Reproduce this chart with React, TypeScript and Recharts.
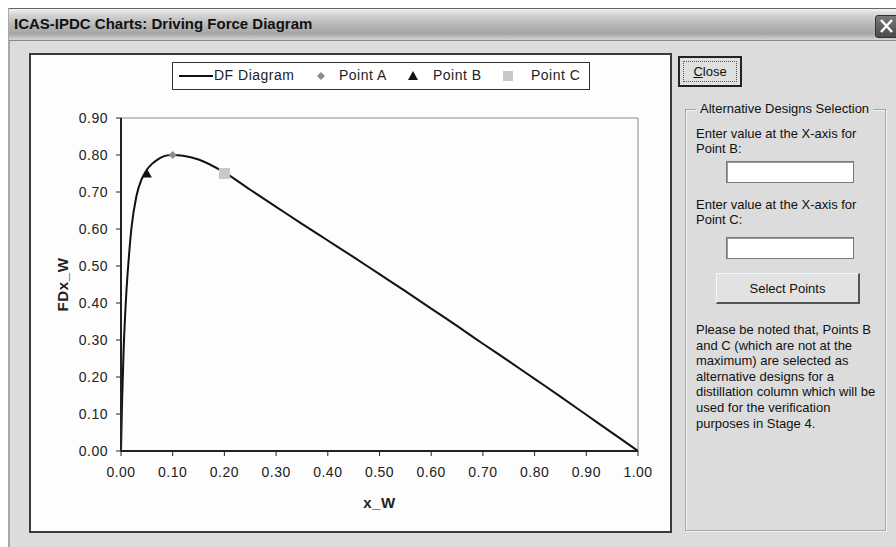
import { ComposedChart, Line, Scatter, XAxis, YAxis, ReferenceLine } from "recharts";

// DF diagram curve
const dfX = [0, 0.002, 0.005, 0.01, 0.015, 0.02, 0.03, 0.04, 0.05, 0.06, 0.07, 0.08, 0.09, 0.1, 0.12, 0.15, 0.2, 0.25, 0.3, 0.35, 0.4, 0.45, 0.5, 0.55, 0.6, 0.65, 0.7, 0.75, 0.8, 0.85, 0.9, 0.95, 1.0];
const dfY = [0, 0.13, 0.27, 0.42, 0.52, 0.6, 0.69, 0.735, 0.76, 0.776, 0.787, 0.795, 0.799, 0.8, 0.798, 0.788, 0.753, 0.706, 0.66, 0.614, 0.569, 0.524, 0.478, 0.432, 0.385, 0.338, 0.29, 0.243, 0.195, 0.147, 0.098, 0.049, 0];

const pointA = [{ x: 0.1, y: 0.8 }];
const pointB = [{ x: 0.05, y: 0.75 }];
const pointC = [{ x: 0.2, y: 0.75 }];

const xTicks = [0, 0.1, 0.2, 0.3, 0.4, 0.5, 0.6, 0.7, 0.8, 0.9, 1.0];
const yTicks = [0, 0.1, 0.2, 0.3, 0.4, 0.5, 0.6, 0.7, 0.8, 0.9];

const chartFont = "'Liberation Sans', Arial, sans-serif";
const uiFont = "'Liberation Sans', Arial, sans-serif";

function diamond(props: any) {
  const { cx, cy } = props;
  return <polygon points={`${cx},${cy - 4} ${cx + 4},${cy} ${cx},${cy + 4} ${cx - 4},${cy}`} fill="#8c8c8c" />;
}

function triangle(props: any) {
  const { cx, cy } = props;
  return <polygon points={`${cx},${cy - 5} ${cx + 5},${cy + 4} ${cx - 5},${cy + 4}`} fill="#111" />;
}

function square(props: any) {
  const { cx, cy } = props;
  return <rect x={cx - 5.5} y={cy - 5.5} width={11} height={11} fill="#c8c8c8" />;
}

function YTitle(props: any) {
  const vb = props.viewBox || { x: 0, y: 65, width: 92, height: 333 };
  const cx = vb.x + 33;
  const cy = vb.y + vb.height / 2;
  return (
    <text
      x={cx}
      y={cy}
      transform={`rotate(-90, ${cx}, ${cy})`}
      textAnchor="middle"
      dominantBaseline="central"
      fontFamily={chartFont}
      fontSize={15}
      fontWeight="bold"
      letterSpacing={0.6}
      fill="#222"
    >
      FDx_W
    </text>
  );
}

function XTitle(props: any) {
  const vb = props.viewBox || { x: 92, y: 398, width: 517, height: 81 };
  return (
    <text
      x={vb.x + vb.width / 2}
      y={vb.y + 51}
      textAnchor="middle"
      dominantBaseline="central"
      fontFamily={chartFont}
      fontSize={15}
      fontWeight="bold"
      letterSpacing={0.6}
      fill="#222"
    >
      x_W
    </text>
  );
}

const fmt = (v: number) => v.toFixed(2);

const tickStyle = { fill: "#222", fontSize: 14, fontFamily: chartFont, letterSpacing: 0.5 };

const panelText: React.CSSProperties = {
  position: "absolute",
  fontFamily: uiFont,
  fontSize: 13,
  color: "#111",
  lineHeight: "15px",
  whiteSpace: "nowrap",
};

export default function App() {
  const dfData = dfX.map((x, i) => ({ x, y: dfY[i] }));

  return (
    <div
      style={{
        position: "absolute",
        left: 0,
        top: 0,
        width: 896,
        height: 547,
        overflow: "hidden",
        background: "#fff",
        fontFamily: uiFont,
      }}
    >
      {/* window */}
      <div
        style={{
          position: "absolute",
          left: 8,
          top: 8,
          width: 900,
          height: 560,
          background: "#dcdcdc",
          borderLeft: "2px solid #a8a8a8",
          borderTop: "1px solid #666",
          boxSizing: "border-box",
        }}
      />
      {/* title bar */}
      <div
        style={{
          position: "absolute",
          left: 9,
          top: 9,
          width: 890,
          height: 31,
          background: "linear-gradient(to bottom, #f2f2f2 0%, #d2d2d2 20%, #b4b4b4 55%, #a6a6a6 80%, #d6d6d6 100%)",
          borderBottom: "1px solid #8a8a8a",
        }}
      >
        <div
          style={{
            position: "absolute",
            left: 5,
            top: 6,
            fontFamily: uiFont,
            fontWeight: "bold",
            fontSize: 15,
            color: "#111",
            whiteSpace: "nowrap",
          }}
        >
          ICAS-IPDC Charts: Driving Force Diagram
        </div>
      </div>
      {/* close X */}
      <div
        style={{
          position: "absolute",
          left: 875,
          top: 15,
          width: 24,
          height: 23,
          background: "linear-gradient(to bottom, #7a7a7a, #4a4a4a)",
          border: "1px solid #333",
          borderRadius: 3,
          boxSizing: "border-box",
        }}
      >
        <svg width={22} height={21} style={{ position: "absolute", left: 0, top: 0 }}>
          <line x1={5} y1={4} x2={16} y2={16} stroke="#fff" strokeWidth={2.5} />
          <line x1={16} y1={4} x2={5} y2={16} stroke="#fff" strokeWidth={2.5} />
        </svg>
      </div>

      {/* chart box */}
      <div
        style={{
          position: "absolute",
          left: 29,
          top: 53,
          width: 643,
          height: 480,
          background: "#fdfdfd",
          border: "2px solid #3a3a3a",
          boxSizing: "border-box",
        }}
      />
      <div style={{ position: "absolute", left: 29, top: 53 }}>
        <ComposedChart width={642} height={479} data={dfData} margin={{ top: 65, right: 33, left: 0, bottom: 0 }}>
          <XAxis
            dataKey="x"
            type="number"
            domain={[0, 1]}
            ticks={xTicks}
            tickFormatter={fmt}
            height={81}
            tickSize={5}
            tickMargin={11}
            axisLine={{ stroke: "#222", strokeWidth: 2 }}
            tickLine={{ stroke: "#222" }}
            tick={tickStyle}
            interval={0}
            allowDataOverflow
            label={{ value: "x_W", content: (p: any) => <XTitle {...p} /> }}
          />
          <YAxis
            dataKey="y"
            type="number"
            domain={[0, 0.9]}
            ticks={yTicks}
            tickFormatter={fmt}
            width={92}
            tickSize={5}
            tickMargin={8}
            axisLine={{ stroke: "#222", strokeWidth: 2 }}
            tickLine={{ stroke: "#222" }}
            tick={tickStyle}
            interval={0}
            allowDataOverflow
            label={{ value: "FDx_W", content: (p: any) => <YTitle {...p} /> }}
          />
          <ReferenceLine y={0.9} stroke="#8a8a8a" strokeWidth={1} />
          <ReferenceLine x={1} stroke="#8a8a8a" strokeWidth={1} />
          <Line
            type="monotone"
            dataKey="y"
            stroke="#111"
            strokeWidth={2}
            dot={false}
            isAnimationActive={false}
          />
          <Scatter data={pointA} dataKey="y" shape={diamond} isAnimationActive={false} />
          <Scatter data={pointB} dataKey="y" shape={triangle} isAnimationActive={false} />
          <Scatter data={pointC} dataKey="y" shape={square} isAnimationActive={false} />
        </ComposedChart>
      </div>

      {/* legend */}
      <div
        style={{
          position: "absolute",
          left: 172,
          top: 62,
          width: 418,
          height: 28,
          border: "1px solid #333",
          background: "#fff",
          boxSizing: "border-box",
          fontFamily: chartFont,
          fontSize: 14,
          letterSpacing: 0.5,
          color: "#222",
        }}
      >
        <svg width={418} height={26} style={{ position: "absolute", left: 0, top: 0 }}>
          <line x1={6} y1={13} x2={40} y2={13} stroke="#111" strokeWidth={2} />
          <polygon points="148,9 152,13 148,17 144,13" fill="#8c8c8c" />
          <polygon points="240,8 245,17 235,17" fill="#111" />
          <rect x={330} y={8} width={10} height={10} fill="#c8c8c8" />
        </svg>
        <span style={{ position: "absolute", left: 41, top: 4 }}>DF Diagram</span>
        <span style={{ position: "absolute", left: 166, top: 4 }}>Point A</span>
        <span style={{ position: "absolute", left: 260, top: 4 }}>Point B</span>
        <span style={{ position: "absolute", left: 358, top: 4 }}>Point C</span>
      </div>

      {/* Close button */}
      <div
        style={{
          position: "absolute",
          left: 678,
          top: 56,
          width: 64,
          height: 31,
          background: "#e0e0e0",
          border: "2px solid #222",
          boxSizing: "border-box",
        }}
      >
        <div
          style={{
            position: "absolute",
            left: 3,
            top: 3,
            right: 3,
            bottom: 3,
            border: "1px dotted #555",
          }}
        />
        <div style={{ ...panelText, left: 0, right: 0, top: 6, textAlign: "center" }}>
          <span style={{ textDecoration: "underline" }}>C</span>lose
        </div>
      </div>

      {/* group box */}
      <div
        style={{
          position: "absolute",
          left: 685,
          top: 109,
          width: 201,
          height: 422,
          border: "1px solid #a4a4a4",
          boxShadow: "inset 1px 1px 0 #f4f4f4, 1px 1px 0 #f4f4f4",
          boxSizing: "border-box",
        }}
      />
      <div style={{ ...panelText, left: 696, top: 101, background: "#dcdcdc", padding: "0 4px" }}>
        Alternative Designs Selection
      </div>
      <div style={{ ...panelText, left: 696, top: 126 }}>
        Enter value at the X-axis for
        <br />
        Point B:
      </div>
      <div
        style={{
          position: "absolute",
          left: 726,
          top: 161,
          width: 128,
          height: 22,
          background: "#fff",
          border: "1px solid #7a7a7a",
          boxShadow: "inset 1px 1px 0 #9a9a9a",
          boxSizing: "border-box",
        }}
      />
      <div style={{ ...panelText, left: 696, top: 197 }}>
        Enter value at the X-axis for
        <br />
        Point C:
      </div>
      <div
        style={{
          position: "absolute",
          left: 726,
          top: 237,
          width: 128,
          height: 22,
          background: "#fff",
          border: "1px solid #7a7a7a",
          boxShadow: "inset 1px 1px 0 #9a9a9a",
          boxSizing: "border-box",
        }}
      />
      <div
        style={{
          position: "absolute",
          left: 716,
          top: 273,
          width: 144,
          height: 31,
          background: "#e2e2e2",
          borderTop: "1px solid #f6f6f6",
          borderLeft: "1px solid #f6f6f6",
          borderRight: "2px solid #555",
          borderBottom: "2px solid #555",
          boxSizing: "border-box",
        }}
      >
        <div style={{ ...panelText, left: 0, right: 0, top: 7, textAlign: "center" }}>Select Points</div>
      </div>
      <div style={{ ...panelText, left: 696, top: 322, lineHeight: "15.6px" }}>
        Please be noted that, Points B
        <br />
        and C (which are not at the
        <br />
        maximum) are selected as
        <br />
        alternative designs for a
        <br />
        distillation column which will be
        <br />
        used for the verification
        <br />
        purposes in Stage 4.
      </div>
    </div>
  );
}
